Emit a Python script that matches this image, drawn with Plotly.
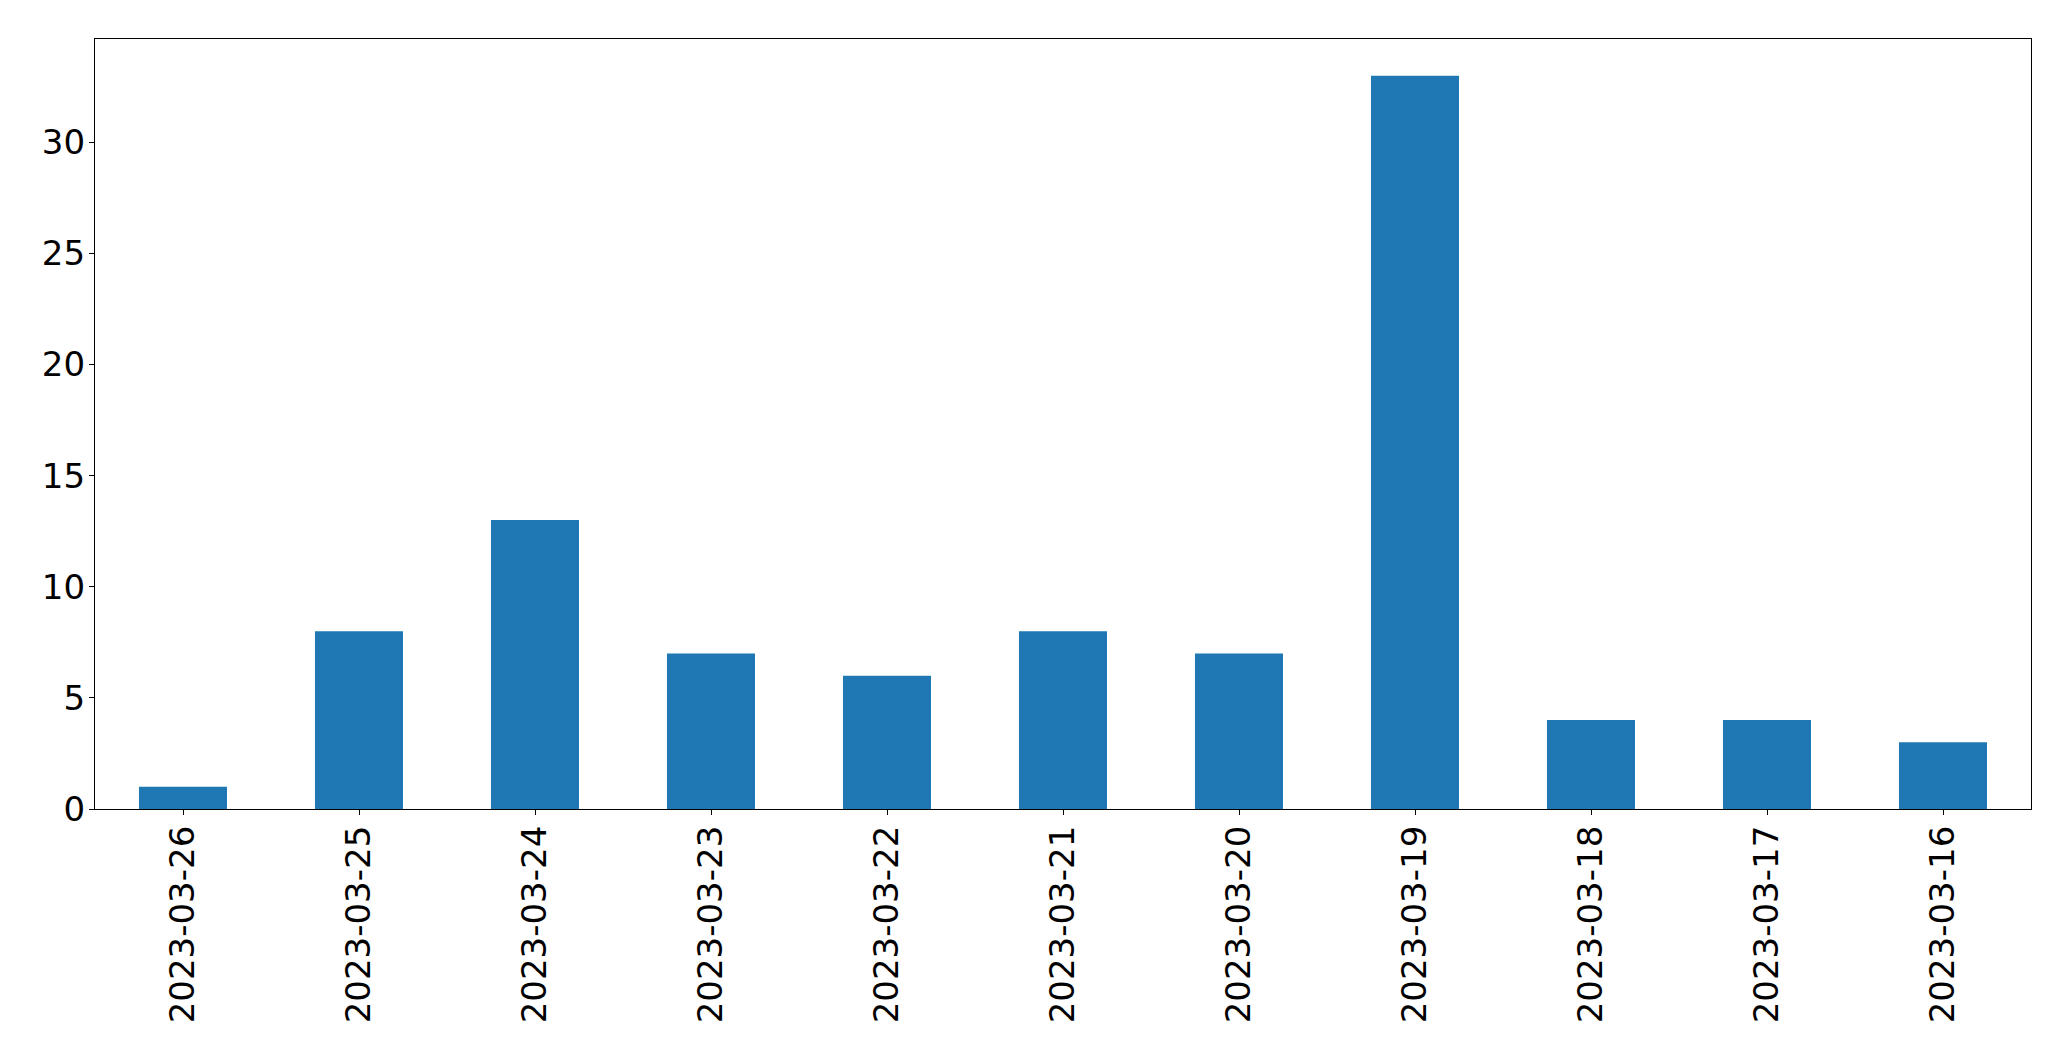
import plotly.graph_objects as go

dates = ["2023-03-26", "2023-03-25", "2023-03-24", "2023-03-23", "2023-03-22",
         "2023-03-21", "2023-03-20", "2023-03-19", "2023-03-18", "2023-03-17", "2023-03-16"]
counts = [1, 8, 13, 7, 6, 8, 7, 33, 4, 4, 3]
y_ticks = [0, 5, 10, 15, 20, 25, 30]

fig = go.Figure(go.Bar(x=dates, y=counts, marker_color="#1f77b4", marker_line_width=0, width=0.5))

axis_common = dict(showline=True, linecolor="black", linewidth=1.3, mirror=True,
                   ticks="outside", ticklen=5, tickwidth=1.3, tickcolor="black",
                   showgrid=False, zeroline=False, automargin=False,
                   ticklabelstandoff=-3,
                   tickfont=dict(family="DejaVu Sans", size=34, color="black"))

fig.update_layout(
    width=2063, height=1053,
    margin=dict(l=87, r=40, t=31, b=252, autoexpand=False),
    plot_bgcolor="white", paper_bgcolor="white",
    showlegend=False,
    bargap=0.5,
    xaxis=dict(type="category", range=[-0.5, 10.5], tickangle=-90, **axis_common),
    yaxis=dict(range=[0, 34.65], tickvals=y_ticks, ticktext=[str(v) for v in y_ticks], **axis_common),
)

fig.write_html("out.html")
